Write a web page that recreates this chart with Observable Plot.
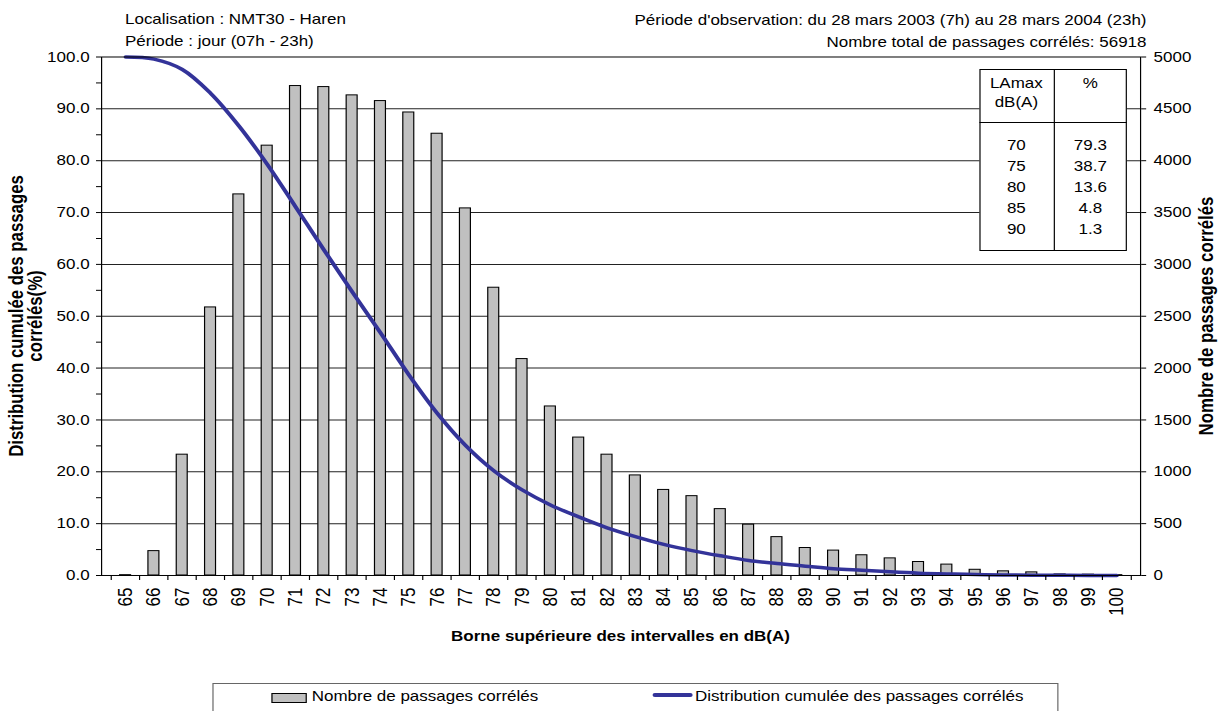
<!DOCTYPE html>
<html><head><meta charset="utf-8">
<script src="https://cdn.jsdelivr.net/npm/d3@7"></script>
<script src="https://cdn.jsdelivr.net/npm/@observablehq/plot@0.6"></script>
<style>
html,body{margin:0;padding:0;background:#fff;}
body{width:1229px;height:711px;overflow:hidden;position:relative;font-family:"Liberation Sans",Arial,sans-serif;color:#000;}
#stage{position:absolute;left:0;top:0;height:711px;transform-origin:0 0;}
.t{position:absolute;white-space:nowrap;font-size:14.4px;line-height:14.4px;}
.b{font-weight:bold;}
.rot{position:absolute;white-space:nowrap;font-weight:bold;font-size:16.8px;line-height:16.8px;transform:translate(-50%,-50%) rotate(-90deg);}
.box{position:absolute;box-sizing:border-box;}
</style></head><body><div id="stage"></div>
<script>
// ---- data ----
const levels = [65,66,67,68,69,70,71,72,73,74,75,76,77,78,79,80,81,82,83,84,85,86,87,88,89,90,91,92,93,94,95,96,97,98,99,100];
const counts = [3,235,1165,2585,3675,4145,4720,4710,4630,4575,4465,4260,3540,2775,2087,1630,1330,1165,965,825,765,640,490,370,265,240,195,165,130,105,55,40,30,10,8,3];
const cumul = [100,99.6,97.6,93.0,86.7,79.3,71.1,62.8,54.7,46.8,38.7,31.3,25.1,20.2,16.5,13.6,11.3,9.2,7.5,6.0,4.8,3.8,2.9,2.3,1.8,1.3,1.0,0.7,0.45,0.3,0.2,0.1,0.05,0.03,0.01,0];
const leftTicks = [0,10,20,30,40,50,60,70,80,90,100];
const rightTicks = [0,500,1000,1500,2000,2500,3000,3500,4000,4500,5000];
const tableLevels = ["70","75","80","85","90"];
const tablePct = ["79.3","38.7","13.6","4.8","1.3"];
const titleLeft = ["Localisation : NMT30 - Haren", "Période : jour (07h - 23h)"];
const titleRight = ["Période d'observation: du 28 mars 2003 (7h) au 28 mars 2004 (23h)", "Nombre total de passages corrélés: 56918"];
const xTitle = "Borne supérieure des intervalles en dB(A)";
const yLeftTitle = ["Distribution cumulée des passages", "corrélés(%)"];
const yRightTitle = "Nombre de passages corrélés";
const legendLabels = ["Nombre de passages corrélés", "Distribution cumulée des passages corrélés"];

// ---- layout (horizontal stretch like the reference) ----
const SX = 1.18;
const W = 1229 / SX;
const vx = x => x / SX;
const stage = document.getElementById("stage");
stage.style.width = W + "px";
stage.style.transform = `scaleX(${SX})`;

const H = 640;
const ml = vx(101), mr = vx(1229 - 1140), mt = 56.5, mb = H - 575;
const step = (W - ml - mr) / levels.length;
const barInset = (step - vx(11.5)) / 2;
const cats = levels.map(String);
const data = levels.map((l, i) => ({level: String(l), count: counts[i], pct: cumul[i]}));
const major = rightTicks;
const minor = d3.range(250, 5000, 500);
const pctToCount = 5000 / 100;

const chart = Plot.plot({
  width: W, height: H,
  marginLeft: ml, marginRight: mr, marginTop: mt, marginBottom: mb,
  style: {fontFamily: "Liberation Sans, Arial, sans-serif", fontSize: "14.4px", background: "transparent", overflow: "visible", color: "#000"},
  x: {type: "band", domain: cats, padding: 0, axis: null},
  y: {domain: [0, 5000], axis: null},
  marks: [
    Plot.ruleY(major.slice(1, -1), {stroke: "#222", strokeWidth: 1}),
    Plot.barY(data, {x: "level", y: "count", fill: "#c0c0c0", stroke: "#000", strokeWidth: 1, insetLeft: barInset, insetRight: barInset}),
    Plot.lineY(data, {x: "level", y: d => d.pct * pctToCount, stroke: "#333399", strokeWidth: 3.5, curve: "catmull-rom", strokeLinecap: "round", strokeLinejoin: "round"}),
    Plot.frame({stroke: "#000", strokeWidth: 1}),
    Plot.axisY({anchor: "left", ticks: leftTicks.map(v => v * pctToCount), tickSize: vx(5), tickPadding: vx(7), tickFormat: d => (d / pctToCount).toFixed(1), label: null}),
    Plot.axisY({anchor: "left", ticks: minor, tickSize: vx(5), tickFormat: () => "", label: null}),
    Plot.axisY({anchor: "right", ticks: major, tickSize: vx(5), tickPadding: vx(8), tickFormat: d => String(d), label: null}),
    Plot.axisX({ticks: cats, tickSize: 5, tickFormat: () => "", dx: -step / 2, label: null}),
    Plot.axisX({ticks: [cats[cats.length - 1]], tickSize: 5, tickFormat: () => "", dx: step / 2, label: null}),
    Plot.axisX({ticks: cats, tickSize: 0, tickPadding: 12, tickRotate: -90, fontSize: 17, label: null})
  ]
});
chart.style.position = "absolute";
chart.style.left = "0px";
chart.style.top = "0px";
stage.appendChild(chart);

// ---- text helpers ----
function addDiv(cls, txt, css) {
  const d = document.createElement("div");
  d.className = cls;
  d.textContent = txt;
  Object.assign(d.style, css);
  stage.appendChild(d);
  return d;
}
const BASE = 12.2; // baseline offset inside a 14.4px line box

// titles
addDiv("t", titleLeft[0], {left: vx(125) + "px", top: (24.5 - BASE) + "px"});
addDiv("t", titleLeft[1], {left: vx(125) + "px", top: (45.8 - BASE) + "px"});
addDiv("t", titleRight[0], {right: (W - vx(1146.5)) + "px", top: (25.5 - BASE) + "px", textAlign: "right"});
addDiv("t", titleRight[1], {right: (W - vx(1146.5)) + "px", top: (46.8 - BASE) + "px", textAlign: "right"});

// axis titles
addDiv("t b", xTitle, {left: vx(620.5) + "px", top: (641 - BASE) + "px", transform: "translateX(-50%)"});
addDiv("rot", yLeftTitle[0], {left: vx(17.6) + "px", top: "315.75px"});
addDiv("rot", yLeftTitle[1], {left: vx(37) + "px", top: "315.75px"});
addDiv("rot", yRightTitle, {left: vx(1207) + "px", top: "315.75px"});

// table
const tL = 979, tR = 1127, tS = 1053.7, tT = 69, tB = 251, tH = 122.3;
addDiv("box", "", {left: vx(tL) + "px", top: tT + "px", width: vx(tR - tL) + "px", height: (tB - tT) + "px", border: "1px solid #000", background: "#fff"});
addDiv("box", "", {left: vx(tS) + "px", top: tT + "px", width: "1px", height: (tB - tT) + "px", background: "#000"});
addDiv("box", "", {left: vx(tL) + "px", top: tH + "px", width: vx(tR - tL) + "px", height: "1px", background: "#000"});
const c1 = vx((tL + tS) / 2), c2 = vx((tS + tR) / 2);
function cell(txt, cx, cy) {
  addDiv("t", txt, {left: cx + "px", top: (cy - 7.1) + "px", transform: "translateX(-50%)"});
}
cell("LAmax", c1, 83);
cell("dB(A)", c1, 101.7);
cell("%", c2, 83);
tableLevels.forEach((v, i) => { cell(v, c1, 145 + 21 * i); cell(tablePct[i], c2, 145 + 21 * i); });

// legend
addDiv("box", "", {left: vx(212.7) + "px", top: "682.7px", width: vx(1058 - 212.7) + "px", height: "40px", border: "1px solid #666", background: "#fff"});
addDiv("box", "", {left: vx(271) + "px", top: "692.7px", width: vx(35.7) + "px", height: "10.6px", border: "1px solid #000", background: "#c0c0c0"});
addDiv("t", legendLabels[0], {left: vx(311.7) + "px", top: (701 - BASE) + "px"});
addDiv("box", "", {left: vx(653) + "px", top: "693px", width: vx(40) + "px", height: "4px", background: "#333399", borderRadius: "2px"});
addDiv("t", legendLabels[1], {left: vx(695) + "px", top: (701 - BASE) + "px"});
</script>
</body></html>
